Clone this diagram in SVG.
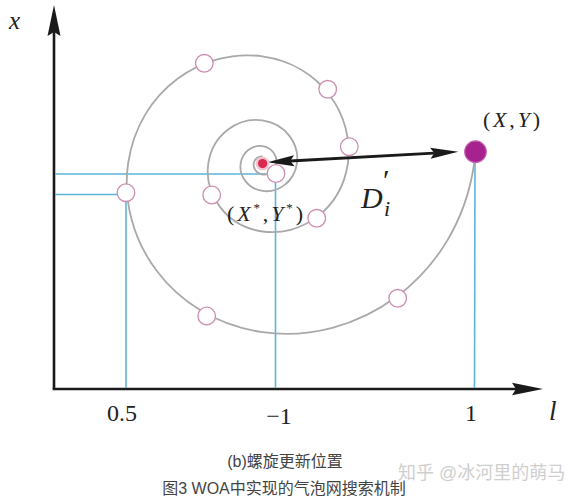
<svg xmlns="http://www.w3.org/2000/svg" width="566" height="500" viewBox="0 0 566 500">
<style>
.axis{stroke:#1a1a1a;stroke-width:2.6;fill:none}
.head{fill:#1a1a1a;stroke:none}
.guide{stroke:#5db5d6;stroke-width:1.6;fill:none}
.spiral{stroke:#a9a9a9;stroke-width:1.8;fill:none}
.marker{fill:#ffffff;stroke:#cc8fb2;stroke-width:1.3}
.math{font-family:"Liberation Serif","DejaVu Serif",serif;fill:#222}
.it{font-style:italic}
.cap{font-family:"Liberation Sans","Noto Sans CJK SC",sans-serif;fill:#444;font-size:16px}
</style>
<rect width="566" height="500" fill="#ffffff"/>
<g id="axes">
  <line class="axis" x1="54" y1="389" x2="54" y2="30"/>
  <polygon class="head" points="54,5 60.5,36 54,32 47.5,36"/>
  <line class="axis" x1="52.7" y1="389" x2="518" y2="389"/>
  <polygon class="head" points="543,389 512,382.8 516,389 512,395.2"/>
</g>
<g id="connectors">
  <g id="guides">
    <line class="guide" x1="55" y1="174" x2="267" y2="174"/>
    <line class="guide" x1="55" y1="194.5" x2="117" y2="194.5"/>
    <line class="guide" x1="126" y1="201" x2="126" y2="388"/>
    <line class="guide" x1="275.5" y1="182" x2="275.5" y2="388"/>
    <line class="guide" x1="475" y1="160" x2="474.5" y2="388"/>
  </g>
  <path id="spiral" class="spiral" d="M262.5,156.49 C258.64,155.93 254.39,158.65 253.69,163.5 C252.99,168.35 256.42,173.67 262.5,174.55 C268.58,175.43 275.27,171.13 276.37,163.5 C277.47,155.87 272.07,147.48 262.5,146.1 C252.93,144.72 242.4,151.49 240.66,163.5 C238.92,175.51 247.42,188.73 262.5,190.91 C277.58,193.09 294.16,182.42 296.9,163.5 C299.64,144.58 286.24,123.76 262.5,120.33 C238.76,116.9 212.63,133.7 208.32,163.5 C204.01,193.3 225.1,226.09 262.5,231.5 C299.9,236.91 341.05,210.44 347.84,163.5 C354.63,116.56 321.41,64.92 262.5,56.4 C203.59,47.88 138.79,89.58 128.1,163.5 C117.41,237.42 169.71,318.78 262.5,332.2 C355.29,345.62 457.36,279.94 474.2,163.5 L475,155"/>
  <g id="distance-arrow">
    <line x1="290" y1="161" x2="434" y2="153.1" stroke="#1a1a1a" stroke-width="2.8"/>
    <polygon class="head" points="267.3,162.3 294.6,166.3 290.3,161 294,155.3"/>
    <polygon class="head" points="458.3,151.7 430,147.8 434.3,153.1 430.6,158.7"/>
  </g>
</g>
<g id="markers">
  <circle id="m1" class="marker" cx="204.3" cy="63.3" r="8.8"/>
  <circle id="m2" class="marker" cx="327.7" cy="89.3" r="8.8"/>
  <circle id="m3" class="marker" cx="349.3" cy="146.7" r="8.8"/>
  <circle id="m4" class="marker" cx="276" cy="173.5" r="8.8"/>
  <circle id="m5" class="marker" cx="211.7" cy="195" r="8.8"/>
  <circle id="m6" class="marker" cx="316.7" cy="218.3" r="8.8"/>
  <circle id="m7" class="marker" cx="126" cy="192.7" r="8.8"/>
  <circle id="m8" class="marker" cx="206.7" cy="316" r="8.8"/>
  <circle id="m9" class="marker" cx="397.7" cy="298.3" r="8.8"/>
</g>
<g id="best">
  <circle cx="262.6" cy="163.6" r="7" fill="#f3c3cf"/>
  <circle cx="262.6" cy="163.6" r="4.6" fill="#d9284b"/>
</g>
<g id="whale">
  <circle cx="475.5" cy="151.7" r="10.8" fill="#a5228f" stroke="#c562b4" stroke-width="1.2"/>
</g>
<g id="labels">
  <text class="math it" x="9" y="29" font-size="25">x</text>
  <text class="math" x="483" y="127" font-size="22" textLength="57" lengthAdjust="spacing">(<tspan class="it">X</tspan>,<tspan class="it">Y</tspan>)</text>
  <text class="math" x="227" y="221" font-size="22" textLength="76" lengthAdjust="spacing">(<tspan class="it">X</tspan><tspan font-size="13" dy="-9">*</tspan><tspan dy="9">,</tspan><tspan class="it">Y</tspan><tspan font-size="13" dy="-9">*</tspan><tspan dy="9">)</tspan></text>
  <text class="math it" x="361" y="208" font-size="30">D</text>
  <text class="math" x="383" y="190" font-size="30">′</text>
  <text class="math it" x="384" y="216" font-size="22">i</text>
  <text class="math" x="122" y="421" font-size="24" text-anchor="middle">0.5</text>
  <text class="math" x="279" y="424" font-size="24" text-anchor="middle">−1</text>
  <text class="math" x="471" y="421" font-size="24" text-anchor="middle">1</text>
  <text class="math it" x="549" y="420" font-size="27">l</text>
</g>
<g id="captions">
  <text class="cap" x="285" y="467" text-anchor="middle">(b)螺旋更新位置</text>
  <text class="cap" x="284" y="494" text-anchor="middle">图3 WOA中实现的气泡网搜索机制</text>
  <text x="398" y="479" font-family="Liberation Sans,'Noto Sans CJK SC',sans-serif" font-size="18" fill="#cfcfcf">知乎 @冰河里的萌马</text>
</g>
</svg>
